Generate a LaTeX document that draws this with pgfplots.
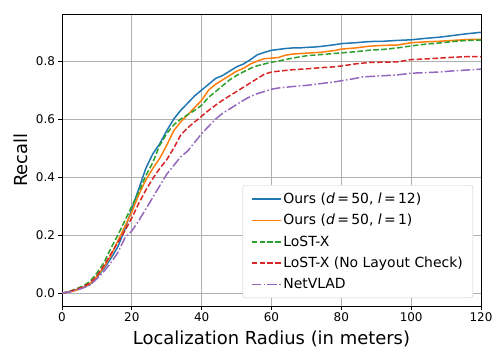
\documentclass[border=0pt]{standalone}
\usepackage{fontspec}
\setmainfont{DejaVu Sans}
\usepackage{pgfplots}
\pgfplotsset{compat=1.18}

\definecolor{tabblue}{HTML}{1F77B4}
\definecolor{taborange}{HTML}{FF7F0E}
\definecolor{tabgreen}{HTML}{2CA02C}
\definecolor{tabred}{HTML}{D62728}
\definecolor{tabpurple}{HTML}{9467BD}

\begin{document}
\begin{tikzpicture}
\begin{axis}[
    anchor=south west, at={(0,0)},
    scale only axis,
    width=419bp, height=292bp,
    xmin=0, xmax=120,
    ymin=-0.044, ymax=0.962,
    xtick={0,20,...,120},
    ytick={0,0.2,0.4,0.6,0.8},
    yticklabel style={/pgf/number format/.cd, fixed, fixed zerofill, precision=1},
    /pgf/number format/assume math mode=true,
    tick label style={font=\fontsize{12}{14}\selectfont},
    tick align=outside,
    major tick length=3.5bp,
    tick style={black, line width=0.8bp},
    xtick pos=bottom, ytick pos=left,
    axis line style={line width=0.8bp},
    grid=major,
    major grid style={color=black!31, line width=0.8bp},
    xlabel={Localization Radius (in meters)},
    ylabel={Recall},
    label style={font=\fontsize{18}{21}\selectfont},
    xlabel style={yshift=-2bp},
    ylabel style={yshift=1bp},
    legend cell align=left,
    legend style={
        at={(0.981,0.027)}, anchor=south east,
        font=\fontsize{14}{16}\selectfont,
        draw=black!20, rounded corners=2bp,
        row sep=5.5bp, inner xsep=8bp, inner ysep=5.5bp,
    },
    legend image code/.code={
        \draw[#1] (0bp,0bp) -- (29bp,0bp);
    },
]
\addplot[tabblue, line width=1.5bp] coordinates {
(0,0) (2,0.005) (4,0.012) (6,0.02) (8,0.03) (10,0.055) (12,0.085) (14,0.12)
(16,0.16) (18,0.22) (20,0.29) (22,0.36) (24,0.43) (26,0.48) (28,0.515) (30,0.56)
(32,0.60) (34,0.63) (36,0.655) (38,0.68) (40,0.70) (42,0.72) (44,0.74) (46,0.75)
(48,0.765) (50,0.78) (52,0.79) (54,0.805) (56,0.822) (58,0.83) (60,0.837) (62,0.84)
(64,0.843) (66,0.845) (68,0.845) (70,0.847) (72,0.848) (74,0.85) (76,0.853) (78,0.856)
(80,0.86) (84,0.863) (88,0.867) (92,0.868) (96,0.871) (100,0.873) (104,0.878)
(108,0.882) (112,0.888) (116,0.894) (120,0.899)};
\addlegendentry{Ours (\textit{d}\,=\,50, \textit{l}\,=\,12)}
\addplot[taborange, line width=1.5bp] coordinates {
(0,0) (2,0.004) (4,0.01) (6,0.02) (8,0.032) (10,0.058) (12,0.09) (14,0.13)
(16,0.18) (18,0.23) (20,0.28) (22,0.34) (24,0.39) (26,0.43) (28,0.465) (30,0.51)
(32,0.56) (34,0.59) (36,0.615) (38,0.64) (40,0.665) (42,0.70) (44,0.72) (46,0.735)
(48,0.75) (50,0.765) (52,0.775) (54,0.79) (56,0.80) (58,0.808) (60,0.81) (62,0.812)
(64,0.82) (66,0.824) (70,0.827) (74,0.83) (78,0.836) (80,0.841) (84,0.845)
(88,0.851) (92,0.854) (96,0.855) (100,0.863) (104,0.866) (108,0.868) (112,0.871)
(116,0.874) (120,0.875)};
\addlegendentry{Ours (\textit{d}\,=\,50, \textit{l}\,=\,1)}
\addplot[tabgreen, line width=1.5bp, dash pattern=on 5.55bp off 2.4bp] coordinates {
(0,0) (2,0.006) (4,0.015) (6,0.025) (8,0.04) (10,0.07) (12,0.105) (14,0.155)
(16,0.2) (18,0.25) (20,0.30) (22,0.35) (24,0.405) (26,0.45) (28,0.51) (30,0.55)
(32,0.58) (34,0.60) (36,0.615) (38,0.63) (40,0.648) (42,0.675) (44,0.695) (46,0.715)
(48,0.735) (50,0.75) (52,0.763) (54,0.775) (56,0.784) (58,0.79) (60,0.796) (62,0.80)
(66,0.81) (70,0.818) (74,0.822) (78,0.826) (80,0.828) (84,0.832) (88,0.837)
(92,0.84) (96,0.845) (100,0.852) (104,0.858) (108,0.862) (112,0.867) (116,0.871)
(120,0.872)};
\addlegendentry{LoST-X}
\addplot[tabred, line width=1.5bp, dash pattern=on 5.55bp off 2.4bp] coordinates {
(0,0) (2,0.005) (4,0.013) (6,0.022) (8,0.035) (10,0.06) (12,0.095) (14,0.135)
(16,0.175) (18,0.215) (20,0.26) (22,0.31) (24,0.355) (26,0.395) (28,0.43) (30,0.46)
(32,0.50) (34,0.545) (36,0.57) (38,0.59) (40,0.61) (42,0.63) (44,0.648) (46,0.665)
(48,0.68) (50,0.695) (52,0.71) (54,0.725) (56,0.74) (58,0.755) (60,0.762) (62,0.765)
(66,0.77) (70,0.773) (74,0.777) (78,0.78) (80,0.783) (84,0.79) (88,0.795) (92,0.796)
(96,0.797) (100,0.805) (104,0.807) (108,0.81) (112,0.813) (116,0.815) (120,0.815)};
\addlegendentry{LoST-X (No Layout Check)}
\addplot[tabpurple, line width=1.5bp, dash pattern=on 9.6bp off 2.4bp on 1.5bp off 2.4bp] coordinates {
(0,0) (2,0.004) (4,0.01) (6,0.018) (8,0.028) (10,0.05) (12,0.075) (14,0.105)
(16,0.14) (18,0.19) (20,0.215) (22,0.25) (24,0.29) (26,0.33) (28,0.37) (30,0.41)
(32,0.44) (34,0.47) (36,0.49) (38,0.52) (40,0.55) (42,0.575) (44,0.60) (46,0.62)
(48,0.635) (50,0.65) (52,0.665) (54,0.678) (56,0.688) (58,0.695) (60,0.703)
(62,0.707) (66,0.712) (70,0.716) (74,0.722) (78,0.728) (80,0.732) (84,0.74)
(86,0.745) (90,0.748) (96,0.752) (100,0.758) (104,0.76) (108,0.762) (112,0.766)
(116,0.769) (120,0.772)};
\addlegendentry{NetVLAD}
\end{axis}
\path (-62bp,-54bp) rectangle (442bp,306bp);
\end{tikzpicture}
\end{document}
